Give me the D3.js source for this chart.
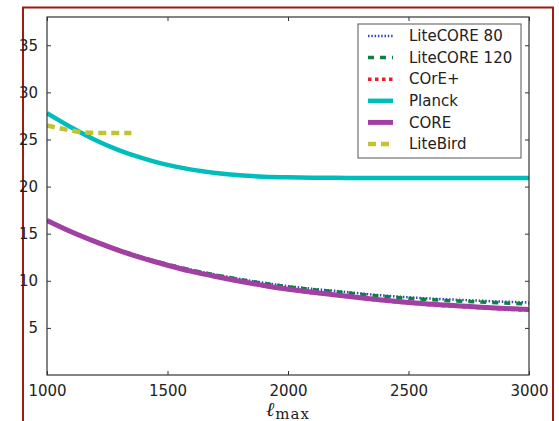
<!DOCTYPE html>
<html>
<head>
<meta charset="utf-8">
<script src="https://cdn.jsdelivr.net/npm/d3@7"></script>
<style>
body { margin: 0; background: #fff; }
svg { display: block; }
text { font-family: "DejaVu Sans", sans-serif; fill: #222; }
</style>
</head>
<body>
<svg id="chart" width="559" height="421"></svg>
<script>
// multipole grid
var ell = [1000,1100,1200,1300,1400,1500,1600,1700,1800,1900,2000,2100,2200,2300,2400,2500,2600,2700,2800,2900,3000];
var liteCore80  = [16.4,15.22,14.2,13.27,12.47,11.78,11.17,10.66,10.2,9.79,9.43,9.15,8.92,8.66,8.43,8.25,8.1,7.99,7.88,7.78,7.7];
var liteCore120 = [16.4,15.22,14.19,13.26,12.45,11.75,11.13,10.62,10.15,9.73,9.36,9.07,8.84,8.57,8.33,8.14,7.98,7.86,7.75,7.64,7.55];
var corePlus    = [16.4,15.2,14.14,13.19,12.36,11.64,10.98,10.43,9.93,9.47,9.07,8.74,8.46,8.16,7.88,7.65,7.44,7.29,7.13,6.99,6.88];
var planck      = [27.8,26.3,24.95,23.85,23.0,22.3,21.8,21.45,21.2,21.05,20.98,20.95,20.93,20.92,20.92,20.92,20.92,20.92,20.92,20.92,20.92];
var core        = [16.4,15.2,14.15,13.2,12.37,11.65,11.0,10.45,9.95,9.5,9.1,8.78,8.5,8.2,7.93,7.7,7.5,7.35,7.2,7.06,6.95];
// LiteBird only goes up to ~1350
var ellBird  = [1000,1050,1100,1150,1200,1250,1300,1350];
var liteBird = [26.5,26.2,25.95,25.75,25.7,25.7,25.7,25.7];

var xTicks = [1000,1500,2000,2500,3000];
var yTicks = [5,10,15,20,25,30,35];

var series = [
  {name:'LiteCORE 80',  x: ell, y: liteCore80,  color:'#2f48b4', width:2.5, dash:'1.5,1.8'},
  {name:'LiteCORE 120', x: ell, y: liteCore120, color:'#0b8043', width:3.5, dash:'6,6'},
  {name:'COrE+',        x: ell, y: corePlus,    color:'#ee1d2a', width:3.5, dash:'3.5,3.5'},
  {name:'Planck',       x: ell, y: planck,      color:'#00bdbd', width:4.5, dash:null},
  {name:'CORE',         x: ell, y: core,        color:'#a23fa3', width:5,   dash:null},
  {name:'LiteBird',     x: ellBird, y: liteBird, color:'#c2c233', width:4.5, dash:'8,5'}
];

var svg = d3.select('#chart');
var m = {l: 47, t: 17, r: 529, b: 375};

var x = d3.scaleLinear().domain([1000, 3000]).range([m.l, m.r]);
var y = d3.scaleLinear().domain([0, 38]).range([m.b, m.t]);

// outer red frame
svg.append('rect')
  .attr('x', 23).attr('y', 7.5)
  .attr('width', 530).attr('height', 430)
  .attr('fill', 'none')
  .attr('stroke', '#9e1c0f')
  .attr('stroke-width', 2);

var plot = svg.append('g');
plot.append('defs').append('clipPath').attr('id', 'clip')
  .append('rect').attr('x', m.l).attr('y', m.t).attr('width', m.r - m.l).attr('height', m.b - m.t);

var line = d3.line()
  .x(function(d){ return x(d[0]); })
  .y(function(d){ return y(d[1]); })
  .curve(d3.curveMonotoneX);

var lines = plot.append('g').attr('clip-path', 'url(#clip)');
series.forEach(function(s){
  lines.append('path')
    .datum(s.x.map(function(v, i){ return [v, s.y[i]]; }))
    .attr('d', line)
    .attr('fill', 'none')
    .attr('stroke', s.color)
    .attr('stroke-width', s.width)
    .attr('stroke-dasharray', s.dash);
});

// axes: ticks inward on all four sides
function axisStyle(g){
  g.select('.domain').remove();
  g.selectAll('.tick line').attr('stroke', '#333');
  g.selectAll('.tick text').style('font-size', '15px').attr('fill', '#222');
}
svg.append('g').attr('transform', 'translate(0,' + m.b + ')')
  .call(d3.axisBottom(x).tickValues(xTicks).tickSizeInner(-4).tickPadding(10).tickFormat(d3.format('d')))
  .call(axisStyle);
svg.append('g').attr('transform', 'translate(0,' + m.t + ')')
  .call(d3.axisTop(x).tickValues(xTicks).tickSizeInner(-4).tickFormat(''))
  .call(axisStyle);
svg.append('g').attr('transform', 'translate(' + m.l + ',0)')
  .call(d3.axisLeft(y).tickValues(yTicks).tickSizeInner(-4).tickPadding(9).tickFormat(d3.format('d')))
  .call(axisStyle);
svg.append('g').attr('transform', 'translate(' + m.r + ',0)')
  .call(d3.axisRight(y).tickValues(yTicks).tickSizeInner(-4).tickFormat(''))
  .call(axisStyle);

svg.append('rect')
  .attr('x', m.l).attr('y', m.t)
  .attr('width', m.r - m.l).attr('height', m.b - m.t)
  .attr('fill', 'none').attr('stroke', '#333').attr('stroke-width', 1.2);

// x label: ell_max
var xl = svg.append('text').attr('x', 266).attr('y', 416).style('font-family', '"DejaVu Serif", serif');
xl.append('tspan').text('\u2113').style('font-style', 'italic').style('font-size', '20px');
xl.append('tspan').text('max').attr('dy', 3).attr('dx', 1).style('font-size', '15px').style('letter-spacing', '1px');

// legend
var lg = svg.append('g').attr('transform', 'translate(358,24)');
lg.append('rect').attr('width', 163).attr('height', 134)
  .attr('fill', '#fff').attr('stroke', '#555').attr('stroke-width', 1);
series.forEach(function(s, i){
  var yy = 12 + i * 21.6;
  lg.append('line')
    .attr('x1', 10).attr('x2', 35).attr('y1', yy).attr('y2', yy)
    .attr('stroke', s.color).attr('stroke-width', s.width)
    .attr('stroke-dasharray', s.dash);
  lg.append('text').attr('x', 51).attr('y', yy).attr('dy', '0.35em')
    .style('font-size', '15px').text(s.name);
});
</script>
</body>
</html>
